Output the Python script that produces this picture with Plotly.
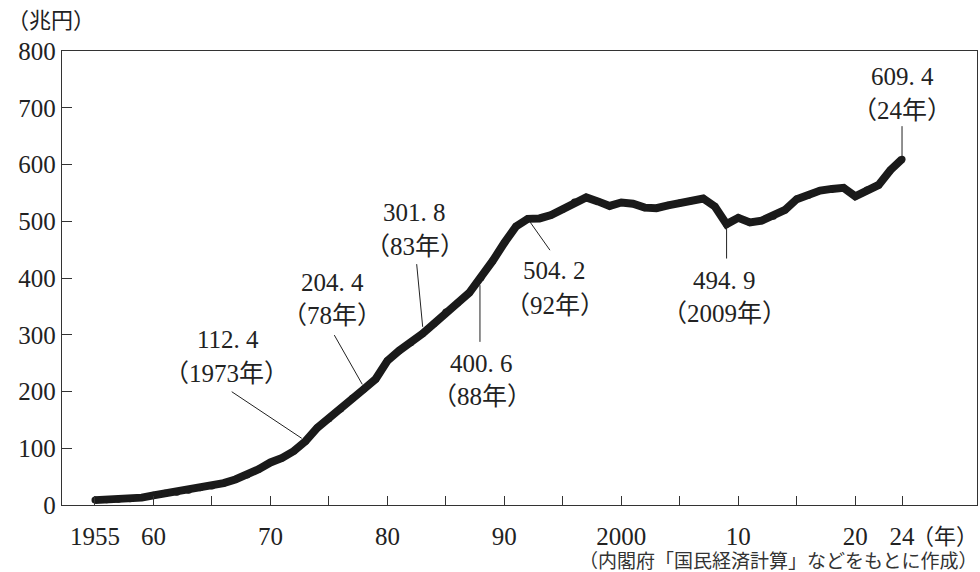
import plotly.graph_objects as go

# ---- data ----
years = list(range(1955, 2025))
gdp = [
    8.6, 9.4, 10.3, 11.0, 13.0,            # 1955-59
    17.0, 20.5, 22.5, 26.0, 30.5,          # 1960-64
    33.5, 38.5, 45.0, 53.0, 63.0,          # 1965-69
    75.0, 83.0, 95.0, 112.4, 136.0,        # 1970-74
    152.0, 169.0, 188.0, 204.4, 222.0,     # 1975-79
    254.0, 272.0, 286.0, 301.8, 320.0,     # 1980-84
    340.0, 356.0, 374.0, 400.6, 430.0,     # 1985-89
    462.0, 491.0, 504.2, 505.0, 511.0,     # 1990-94
    521.0, 534.0, 542.0, 535.0, 527.0,     # 1995-99
    533.0, 531.0, 524.0, 523.0, 528.0,     # 2000-04
    532.0, 536.0, 540.0, 526.0, 494.9,     # 2005-09
    506.0, 498.0, 501.0, 509.0, 520.0,     # 2010-14
    539.0, 546.0, 554.0, 557.0, 559.0,     # 2015-19
    544.0, 555.0, 564.0, 590.0, 609.4,     # 2020-24
]

label_years = [1973, 1978, 1983, 1988, 1992, 2009, 2024]
label_values = [112.4, 204.4, 301.8, 400.6, 504.2, 494.9, 609.4]
label_year_text = ["1973年", "78年", "83年", "88年", "92年", "2009年", "24年"]

x_tickvals = [1955, 1960, 1965, 1970, 1975, 1980, 1985, 1990, 1995,
              2000, 2005, 2010, 2015, 2020, 2024]
x_ticktext = ["1955", "60", "", "70", "", "80", "", "90", "",
              "2000", "", "10", "", "20", "24"]
y_tickvals = [0, 100, 200, 300, 400, 500, 600, 700, 800]

# ---- layout helpers (pixel offsets, screen coords: +x right, +y down) ----
# (leader start dx, dy, leader end dx, dy, value text dx, dy, year text dx, dy)
offsets = [
    (-3.8, -2.9, -73.8, -49.5, -77.8, -101.9, -79.5, -67.9),
    (-1.7, -4.6, -29.7, -53.9, -32.0, -106.2, -32.0, -73.9),
    (0.2, -6.9, -5.8, -69.6, -7.5, -120.9, -7.5, -87.6),
    (-1.0, 7.5, -1.0, 64.2, 0.7, 85.8, 0.7, 119.2),
    (2.2, 3.0, 22.2, 31.3, 27.2, 52.0, 27.2, 86.3),
    (0.0, 1.0, 0.0, 34.4, -1.6, 56.1, -1.6, 89.4),
    (0.0, -2.9, 0.0, -33.0, 0.0, -82.2, 0.0, -48.9),
]

FONT = "'Liberation Serif', 'Times New Roman', 'Noto Sans CJK JP', serif"
TXT = "#222222"
LINE = "#1a1a1a"

fig = go.Figure()
fig.add_trace(go.Scatter(
    x=years, y=gdp, mode="lines+markers",
    line=dict(color=LINE, width=8),
    marker=dict(color=LINE, size=7),
    hoverinfo="skip", showlegend=False,
))

shapes = []
annotations = []
for yr, val, ytxt, off in zip(label_years, label_values, label_year_text, offsets):
    lx0, ly0, lx1, ly1, vx, vy, tx, ty = off
    shapes.append(dict(
        type="line", xref="x", yref="y",
        xsizemode="pixel", xanchor=yr, ysizemode="pixel", yanchor=val,
        x0=lx0, x1=lx1, y0=-ly0, y1=-ly1,
        line=dict(color="#222222", width=1),
    ))
    annotations.append(dict(
        x=yr, y=val, xref="x", yref="y", showarrow=False,
        text=f"{val:.1f}".replace(".", ". "),
        xshift=vx, yshift=-vy, xanchor="center", yanchor="middle",
        font=dict(family=FONT, size=25, color=TXT),
    ))
    annotations.append(dict(
        x=yr, y=val, xref="x", yref="y", showarrow=False,
        text=f"（{ytxt}）",
        xshift=tx, yshift=-ty, xanchor="center", yanchor="middle",
        font=dict(family=FONT, size=25, color=TXT),
    ))

# unit labels and source
annotations.append(dict(
    x=0, y=1, xref="paper", yref="paper", showarrow=False,
    text="（兆円）", xanchor="left", yanchor="middle",
    xshift=5 - 62, yshift=51 - 20.7,
    font=dict(family=FONT, size=22, color=TXT),
))
annotations.append(dict(
    x=1, y=0, xref="paper", yref="paper", showarrow=False,
    text="（年）", xanchor="right", yanchor="middle",
    xshift=3, yshift=505 - 536.7,
    font=dict(family=FONT, size=22, color=TXT),
))
annotations.append(dict(
    x=1, y=0, xref="paper", yref="paper", showarrow=False,
    text="（内閣府「国民経済計算」などをもとに作成）", xanchor="right", yanchor="middle",
    xshift=3, yshift=505 - 561.7,
    font=dict(family=FONT, size=19, color="#333333"),
))

fig.update_layout(
    width=980, height=572,
    margin=dict(l=62, r=3, t=51, b=67),
    paper_bgcolor="white", plot_bgcolor="white",
    shapes=shapes, annotations=annotations,
    font=dict(family=FONT, size=25, color=TXT),
    xaxis=dict(
        range=[1952.18, 2030.41], tickmode="array",
        tickvals=x_tickvals, ticktext=x_ticktext,
        ticks="inside", ticklen=9, tickwidth=1, tickcolor="#333333",
        showline=True, linecolor="#333333", linewidth=1.3, mirror=True,
        showgrid=False, zeroline=False, ticklabelstandoff=9,
        tickfont=dict(family=FONT, size=25, color=TXT),
    ),
    yaxis=dict(
        range=[0, 800], tickmode="array", tickvals=y_tickvals,
        ticks="inside", ticklen=10, tickwidth=1, tickcolor="#333333",
        showline=True, linecolor="#333333", linewidth=1.3, mirror=True,
        showgrid=False, zeroline=False,
        tickfont=dict(family=FONT, size=25, color=TXT),
    ),
)

fig.write_html(
    "out.html",
    config={"displayModeBar": False},
    post_script="document.body.style.margin='0px';document.body.style.padding='0px';",
)
